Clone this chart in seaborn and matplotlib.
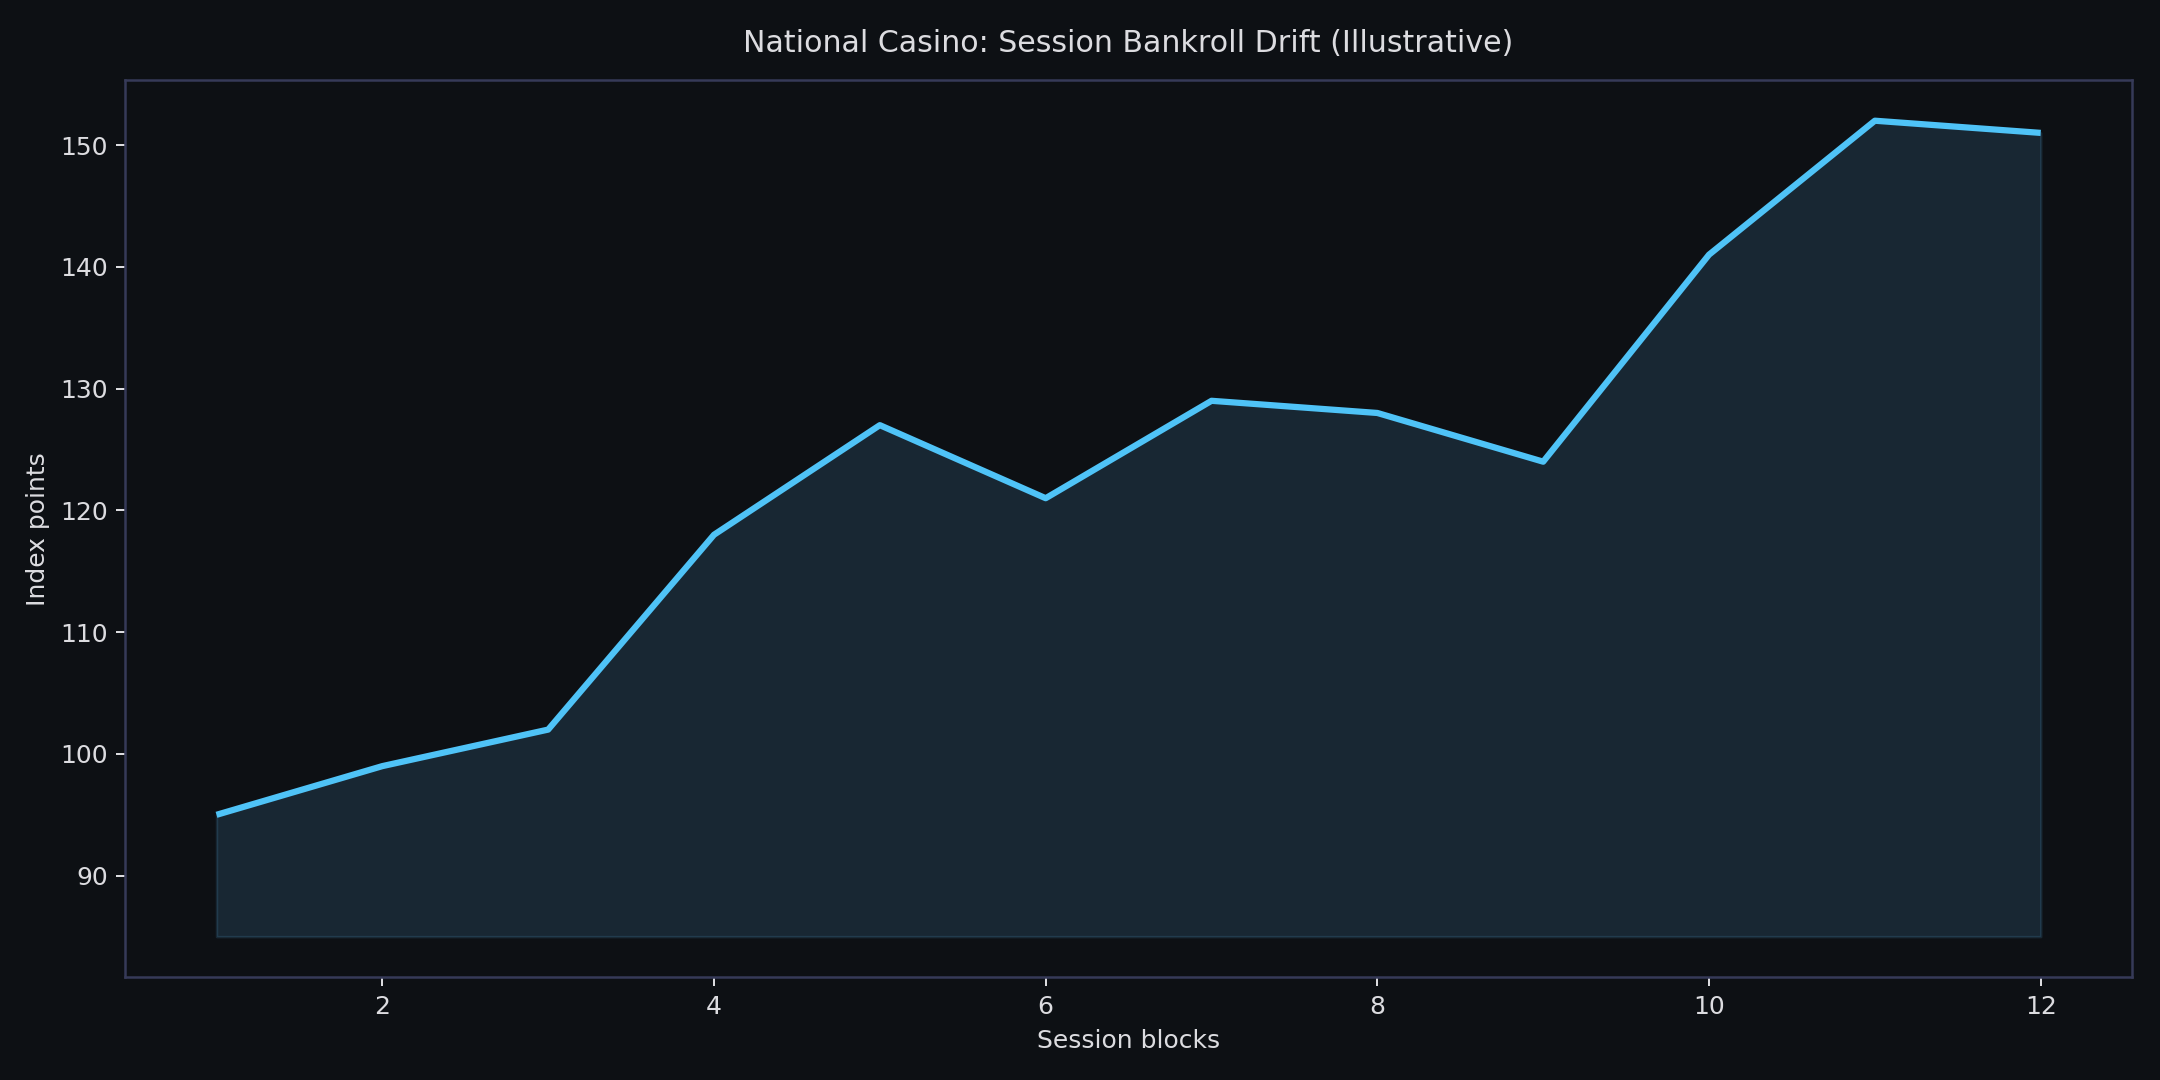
import matplotlib
matplotlib.use("Agg")
import matplotlib.pyplot as plt
import seaborn as sns
import pandas as pd

sessions = [1, 2, 3, 4, 5, 6, 7, 8, 9, 10, 11, 12]
index_points = [95, 99, 102, 118, 127, 121, 129, 128, 124, 141, 152, 151]
fill_base = 85

BG = "#0d1014"
LINE = "#4fc3f7"
FILL = "#5cb8f0"
SPINE = "#363a58"
TEXT = "#dcdce0"

sns.set_theme(style="dark")
plt.rcParams["font.family"] = ["DejaVu Sans"]

df = pd.DataFrame({"session": sessions, "value": index_points})

fig, ax = plt.subplots(figsize=(12, 6), dpi=180)
fig.patch.set_facecolor(BG)
ax.set_facecolor(BG)

ax.fill_between(df["session"], fill_base, df["value"], color=FILL, alpha=0.14, linewidth=1)
sns.lineplot(data=df, x="session", y="value", color=LINE, linewidth=2.5, ax=ax,
             solid_capstyle="butt")

ax.set_title("National Casino: Session Bankroll Drift (Illustrative)", color=TEXT, fontsize=12, pad=11)
ax.set_xlabel("Session blocks", color=TEXT, fontsize=10)
ax.set_ylabel("Index points", color=TEXT, fontsize=10)
ax.tick_params(colors=TEXT, labelsize=10, length=3.5, width=0.8, left=True, bottom=True)
for s in ax.spines.values():
    s.set_color(SPINE)
    s.set_linewidth(1.0)
    s.set_visible(True)
ax.grid(False)

fig.subplots_adjust(left=0.058, right=0.987, top=0.926, bottom=0.095)
fig.savefig("out.png", dpi=180, facecolor=BG)
